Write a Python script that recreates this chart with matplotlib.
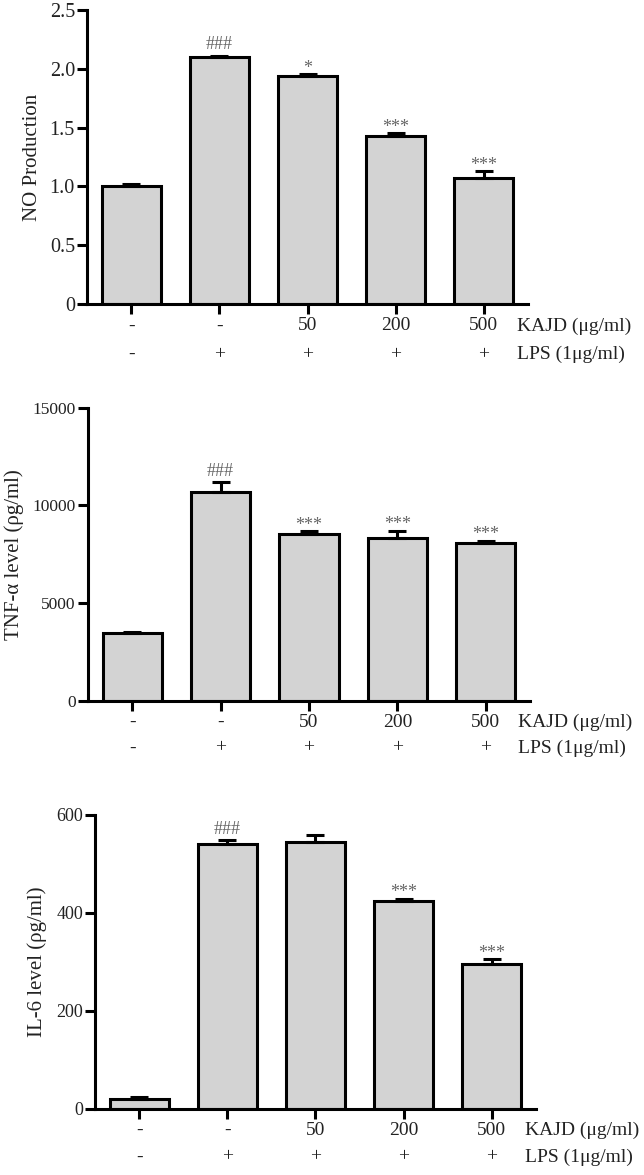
import matplotlib
matplotlib.use('Agg')
import matplotlib.pyplot as plt
from matplotlib.ticker import FixedLocator, FixedFormatter

plt.rcParams['font.family'] = ['Liberation Serif', 'DejaVu Serif']

kajd_labels = ['-', '-', '50', '200', '500']
lps_labels = ['-', '+', '+', '+', '+']

no_vals = [1.00, 2.10, 1.94, 1.425, 1.075]
no_err = [0.02, 0.012, 0.012, 0.028, 0.055]
no_sig = ['', '###', '*', '***', '***']

tnf_vals = [3450, 10700, 8550, 8350, 8070]
tnf_err = [80, 480, 130, 340, 120]
tnf_sig = ['', '###', '***', '***', '***']

il6_vals = [20, 541, 544, 424, 295]
il6_err = [4, 8, 16, 5, 10]
il6_sig = ['', '###', '', '***', '***']

panels = [
    dict(vals=no_vals, err=no_err, sig=no_sig, ylabel='NO Production',
         yticks=[0, 0.5, 1.0, 1.5, 2.0, 2.5],
         yticklabels=['0', '0.5', '1.0', '1.5', '2.0', '2.5'],
         rect=[0.1351, 0.7413, 0.6848, 0.2502], labx=-0.103, tick_fs=14.5,
         row2=36.5),
    dict(vals=tnf_vals, err=tnf_err, sig=tnf_sig, ylabel='TNF-α level (ρg/ml)',
         yticks=[0, 5000, 10000, 15000],
         yticklabels=['0', '5000', '10000', '15000'],
         rect=[0.1366, 0.4037, 0.6863, 0.2494], labx=-0.144, tick_fs=12.5,
         row2=34.0),
    dict(vals=il6_vals, err=il6_err, sig=il6_sig, ylabel='IL-6 level (ρg/ml)',
         yticks=[0, 200, 400, 600],
         yticklabels=['0', '200', '400', '600'],
         rect=[0.1475, 0.0564, 0.6848, 0.2500], labx=-0.108, tick_fs=13,
         row2=34.7),
]

fig = plt.figure(figsize=(6.44, 11.75), dpi=100)

for p in panels:
    ax = fig.add_axes(p['rect'])
    x = list(range(len(p['vals'])))
    ax.bar(x, p['vals'], width=0.67, color='#d3d3d3', edgecolor='black',
           linewidth=2.2, zorder=2)
    ax.errorbar(x, p['vals'], yerr=[[0] * len(x), p['err']], fmt='none',
                ecolor='black', elinewidth=2.2, capsize=6.2, capthick=2.2, zorder=3)
    for xi, v, e, s in zip(x, p['vals'], p['err'], p['sig']):
        if s:
            dy = 7.7 if s.startswith('#') else 4.3
            ax.annotate(s, xy=(xi, v + e), xytext=(0, dy), textcoords='offset points',
                        ha='center', va='center', fontsize=13, color='#666666')

    ax.set_xlim(-0.5, 4.5)
    ax.set_ylim(p['yticks'][0], p['yticks'][-1])
    ax.yaxis.set_major_locator(FixedLocator(p['yticks']))
    ax.yaxis.set_major_formatter(FixedFormatter(p['yticklabels']))
    ax.set_xticks(x)
    ax.set_xticklabels([''] * len(x))
    for side in ['top', 'right']:
        ax.spines[side].set_visible(False)
    for side in ['left', 'bottom']:
        ax.spines[side].set_linewidth(2.2)
    ax.tick_params(axis='both', direction='out', length=7.2, width=2.2,
                   labelsize=p['tick_fs'], labelcolor='#222222', pad=1.5)
    ax.set_ylabel(p['ylabel'], fontsize=15, color='#222222')
    ax.yaxis.set_label_coords(p['labx'], 0.5)

    for xi, k, l in zip(x, kajd_labels, lps_labels):
        ax.annotate(k, xy=(xi, 0), xycoords=('data', 'axes fraction'),
                    xytext=(0, -15.8), textcoords='offset points',
                    ha='center', va='center', fontsize=14, color='#222222')
        ax.annotate(l, xy=(xi, 0), xycoords=('data', 'axes fraction'),
                    xytext=(0, -p['row2']), textcoords='offset points',
                    ha='center', va='center', fontsize=14, color='#222222')
    ax.annotate('KAJD (μg/ml)', xy=(4.37, 0), xycoords=('data', 'axes fraction'),
                xytext=(0, -15.8), textcoords='offset points',
                ha='left', va='center', fontsize=14, color='#222222')
    ax.annotate('LPS (1μg/ml)', xy=(4.37, 0), xycoords=('data', 'axes fraction'),
                xytext=(0, -p['row2']), textcoords='offset points',
                ha='left', va='center', fontsize=14, color='#222222')

fig.savefig('out.png', dpi=100)
